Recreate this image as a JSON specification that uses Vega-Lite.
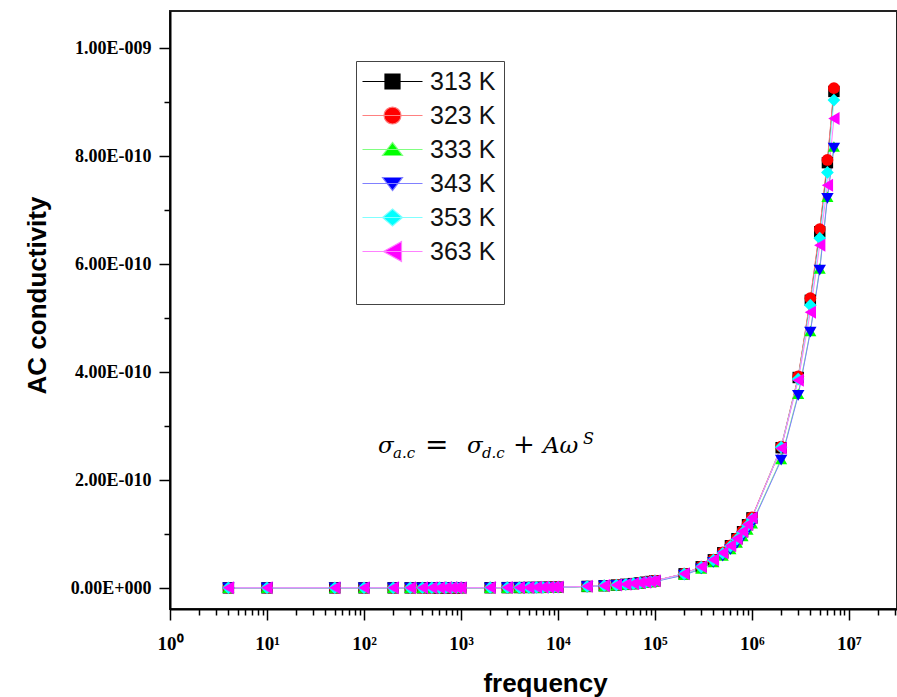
{
"$schema":"https://vega.github.io/schema/vega-lite/v6.json",
"width":727,"height":598,
"autosize":{"type":"none"},
"padding":{"left":170,"top":11,"right":0,"bottom":88},
"background":"#ffffff",
"config":{"view":{"stroke":"#222222","strokeWidth":2}},
"data":{"values":[
{"T":"313 K","f":4,"s":0.003e-10},{"T":"313 K","f":10,"s":0.003e-10},{"T":"313 K","f":50,"s":0.003e-10},{"T":"313 K","f":100,"s":0.003e-10},{"T":"313 K","f":200,"s":0.003e-10},{"T":"313 K","f":300,"s":0.0034e-10},{"T":"313 K","f":400,"s":0.0035e-10},{"T":"313 K","f":500,"s":0.0037e-10},{"T":"313 K","f":600,"s":0.0038e-10},{"T":"313 K","f":700,"s":0.0039e-10},{"T":"313 K","f":800,"s":0.004e-10},{"T":"313 K","f":900,"s":0.0042e-10},{"T":"313 K","f":1000,"s":0.0043e-10},{"T":"313 K","f":2000,"s":0.0056e-10},{"T":"313 K","f":3000,"s":0.0069e-10},{"T":"313 K","f":4000,"s":0.0082e-10},{"T":"313 K","f":5000,"s":0.0095e-10},{"T":"313 K","f":6000,"s":0.0108e-10},{"T":"313 K","f":7000,"s":0.0121e-10},{"T":"313 K","f":8000,"s":0.0134e-10},{"T":"313 K","f":9000,"s":0.0147e-10},{"T":"313 K","f":10000,"s":0.016e-10},{"T":"313 K","f":20000,"s":0.029e-10},{"T":"313 K","f":30000,"s":0.042e-10},{"T":"313 K","f":40000,"s":0.055e-10},{"T":"313 K","f":50000,"s":0.068e-10},{"T":"313 K","f":60000,"s":0.081e-10},{"T":"313 K","f":70000,"s":0.094e-10},{"T":"313 K","f":80000,"s":0.107e-10},{"T":"313 K","f":90000,"s":0.12e-10},{"T":"313 K","f":100000,"s":0.133e-10},{"T":"313 K","f":200000,"s":0.263e-10},{"T":"313 K","f":300000,"s":0.393e-10},{"T":"313 K","f":400000,"s":0.523e-10},{"T":"313 K","f":500000,"s":0.653e-10},{"T":"313 K","f":600000,"s":0.783e-10},{"T":"313 K","f":700000,"s":0.913e-10},{"T":"313 K","f":800000,"s":1.043e-10},{"T":"313 K","f":900000,"s":1.173e-10},{"T":"313 K","f":1000000,"s":1.30e-10},{"T":"313 K","f":2000000,"s":2.60e-10},{"T":"313 K","f":3000000,"s":3.90e-10},{"T":"313 K","f":4000000,"s":5.33e-10},{"T":"313 K","f":5000000,"s":6.60e-10},{"T":"313 K","f":6000000,"s":7.88e-10},{"T":"313 K","f":7000000,"s":9.20e-10},
{"T":"323 K","f":4,"s":0.004e-10},{"T":"323 K","f":10,"s":0.004e-10},{"T":"323 K","f":50,"s":0.004e-10},{"T":"323 K","f":100,"s":0.0041e-10},{"T":"323 K","f":200,"s":0.0043e-10},{"T":"323 K","f":300,"s":0.0044e-10},{"T":"323 K","f":400,"s":0.0045e-10},{"T":"323 K","f":500,"s":0.0047e-10},{"T":"323 K","f":600,"s":0.0048e-10},{"T":"323 K","f":700,"s":0.0049e-10},{"T":"323 K","f":800,"s":0.005e-10},{"T":"323 K","f":900,"s":0.0052e-10},{"T":"323 K","f":1000,"s":0.0053e-10},{"T":"323 K","f":2000,"s":0.0066e-10},{"T":"323 K","f":3000,"s":0.0079e-10},{"T":"323 K","f":4000,"s":0.0092e-10},{"T":"323 K","f":5000,"s":0.0106e-10},{"T":"323 K","f":6000,"s":0.0119e-10},{"T":"323 K","f":7000,"s":0.0132e-10},{"T":"323 K","f":8000,"s":0.0145e-10},{"T":"323 K","f":9000,"s":0.0158e-10},{"T":"323 K","f":10000,"s":0.0171e-10},{"T":"323 K","f":20000,"s":0.0302e-10},{"T":"323 K","f":30000,"s":0.0433e-10},{"T":"323 K","f":40000,"s":0.0564e-10},{"T":"323 K","f":50000,"s":0.0695e-10},{"T":"323 K","f":60000,"s":0.0826e-10},{"T":"323 K","f":70000,"s":0.0957e-10},{"T":"323 K","f":80000,"s":0.1088e-10},{"T":"323 K","f":90000,"s":0.1219e-10},{"T":"323 K","f":100000,"s":0.135e-10},{"T":"323 K","f":200000,"s":0.266e-10},{"T":"323 K","f":300000,"s":0.397e-10},{"T":"323 K","f":400000,"s":0.528e-10},{"T":"323 K","f":500000,"s":0.659e-10},{"T":"323 K","f":600000,"s":0.79e-10},{"T":"323 K","f":700000,"s":0.921e-10},{"T":"323 K","f":800000,"s":1.052e-10},{"T":"323 K","f":900000,"s":1.183e-10},{"T":"323 K","f":1000000,"s":1.31e-10},{"T":"323 K","f":2000000,"s":2.62e-10},{"T":"323 K","f":3000000,"s":3.92e-10},{"T":"323 K","f":4000000,"s":5.37e-10},{"T":"323 K","f":5000000,"s":6.65e-10},{"T":"323 K","f":6000000,"s":7.93e-10},{"T":"323 K","f":7000000,"s":9.26e-10},
{"T":"333 K","f":4,"s":0.003e-10},{"T":"333 K","f":10,"s":0.003e-10},{"T":"333 K","f":50,"s":0.003e-10},{"T":"333 K","f":100,"s":0.0031e-10},{"T":"333 K","f":200,"s":0.0032e-10},{"T":"333 K","f":300,"s":0.0034e-10},{"T":"333 K","f":400,"s":0.0035e-10},{"T":"333 K","f":500,"s":0.0036e-10},{"T":"333 K","f":600,"s":0.0037e-10},{"T":"333 K","f":700,"s":0.0038e-10},{"T":"333 K","f":800,"s":0.004e-10},{"T":"333 K","f":900,"s":0.0041e-10},{"T":"333 K","f":1000,"s":0.0042e-10},{"T":"333 K","f":2000,"s":0.0054e-10},{"T":"333 K","f":3000,"s":0.0066e-10},{"T":"333 K","f":4000,"s":0.0078e-10},{"T":"333 K","f":5000,"s":0.009e-10},{"T":"333 K","f":6000,"s":0.0102e-10},{"T":"333 K","f":7000,"s":0.0114e-10},{"T":"333 K","f":8000,"s":0.0126e-10},{"T":"333 K","f":9000,"s":0.0138e-10},{"T":"333 K","f":10000,"s":0.015e-10},{"T":"333 K","f":20000,"s":0.027e-10},{"T":"333 K","f":30000,"s":0.039e-10},{"T":"333 K","f":40000,"s":0.051e-10},{"T":"333 K","f":50000,"s":0.063e-10},{"T":"333 K","f":60000,"s":0.075e-10},{"T":"333 K","f":70000,"s":0.087e-10},{"T":"333 K","f":80000,"s":0.099e-10},{"T":"333 K","f":90000,"s":0.111e-10},{"T":"333 K","f":100000,"s":0.123e-10},{"T":"333 K","f":200000,"s":0.243e-10},{"T":"333 K","f":300000,"s":0.363e-10},{"T":"333 K","f":400000,"s":0.483e-10},{"T":"333 K","f":500000,"s":0.603e-10},{"T":"333 K","f":600000,"s":0.723e-10},{"T":"333 K","f":700000,"s":0.843e-10},{"T":"333 K","f":800000,"s":0.963e-10},{"T":"333 K","f":900000,"s":1.083e-10},{"T":"333 K","f":1000000,"s":1.20e-10},{"T":"333 K","f":2000000,"s":2.39e-10},{"T":"333 K","f":3000000,"s":3.60e-10},{"T":"333 K","f":4000000,"s":4.76e-10},{"T":"333 K","f":5000000,"s":5.92e-10},{"T":"333 K","f":6000000,"s":7.25e-10},{"T":"333 K","f":7000000,"s":8.18e-10},
{"T":"343 K","f":4,"s":0.002e-10},{"T":"343 K","f":10,"s":0.002e-10},{"T":"343 K","f":50,"s":0.002e-10},{"T":"343 K","f":100,"s":0.0021e-10},{"T":"343 K","f":200,"s":0.0022e-10},{"T":"343 K","f":300,"s":0.0024e-10},{"T":"343 K","f":400,"s":0.0025e-10},{"T":"343 K","f":500,"s":0.0026e-10},{"T":"343 K","f":600,"s":0.0027e-10},{"T":"343 K","f":700,"s":0.0028e-10},{"T":"343 K","f":800,"s":0.0029e-10},{"T":"343 K","f":900,"s":0.0031e-10},{"T":"343 K","f":1000,"s":0.0032e-10},{"T":"343 K","f":2000,"s":0.0044e-10},{"T":"343 K","f":3000,"s":0.0055e-10},{"T":"343 K","f":4000,"s":0.0067e-10},{"T":"343 K","f":5000,"s":0.0079e-10},{"T":"343 K","f":6000,"s":0.0091e-10},{"T":"343 K","f":7000,"s":0.0103e-10},{"T":"343 K","f":8000,"s":0.0114e-10},{"T":"343 K","f":9000,"s":0.0126e-10},{"T":"343 K","f":10000,"s":0.0138e-10},{"T":"343 K","f":20000,"s":0.0256e-10},{"T":"343 K","f":30000,"s":0.0374e-10},{"T":"343 K","f":40000,"s":0.0492e-10},{"T":"343 K","f":50000,"s":0.061e-10},{"T":"343 K","f":60000,"s":0.0728e-10},{"T":"343 K","f":70000,"s":0.0846e-10},{"T":"343 K","f":80000,"s":0.0964e-10},{"T":"343 K","f":90000,"s":0.1082e-10},{"T":"343 K","f":100000,"s":0.12e-10},{"T":"343 K","f":200000,"s":0.238e-10},{"T":"343 K","f":300000,"s":0.356e-10},{"T":"343 K","f":400000,"s":0.474e-10},{"T":"343 K","f":500000,"s":0.592e-10},{"T":"343 K","f":600000,"s":0.71e-10},{"T":"343 K","f":700000,"s":0.828e-10},{"T":"343 K","f":800000,"s":0.946e-10},{"T":"343 K","f":900000,"s":1.064e-10},{"T":"343 K","f":1000000,"s":1.18e-10},{"T":"343 K","f":2000000,"s":2.37e-10},{"T":"343 K","f":3000000,"s":3.57e-10},{"T":"343 K","f":4000000,"s":4.74e-10},{"T":"343 K","f":5000000,"s":5.89e-10},{"T":"343 K","f":6000000,"s":7.22e-10},{"T":"343 K","f":7000000,"s":8.15e-10},
{"T":"353 K","f":4,"s":0.004e-10},{"T":"353 K","f":10,"s":0.004e-10},{"T":"353 K","f":50,"s":0.004e-10},{"T":"353 K","f":100,"s":0.0041e-10},{"T":"353 K","f":200,"s":0.0043e-10},{"T":"353 K","f":300,"s":0.0044e-10},{"T":"353 K","f":400,"s":0.0045e-10},{"T":"353 K","f":500,"s":0.0046e-10},{"T":"353 K","f":600,"s":0.0048e-10},{"T":"353 K","f":700,"s":0.0049e-10},{"T":"353 K","f":800,"s":0.005e-10},{"T":"353 K","f":900,"s":0.0052e-10},{"T":"353 K","f":1000,"s":0.0053e-10},{"T":"353 K","f":2000,"s":0.0066e-10},{"T":"353 K","f":3000,"s":0.0078e-10},{"T":"353 K","f":4000,"s":0.0091e-10},{"T":"353 K","f":5000,"s":0.0104e-10},{"T":"353 K","f":6000,"s":0.0117e-10},{"T":"353 K","f":7000,"s":0.013e-10},{"T":"353 K","f":8000,"s":0.0142e-10},{"T":"353 K","f":9000,"s":0.0155e-10},{"T":"353 K","f":10000,"s":0.0168e-10},{"T":"353 K","f":20000,"s":0.0296e-10},{"T":"353 K","f":30000,"s":0.0424e-10},{"T":"353 K","f":40000,"s":0.0552e-10},{"T":"353 K","f":50000,"s":0.068e-10},{"T":"353 K","f":60000,"s":0.0808e-10},{"T":"353 K","f":70000,"s":0.0936e-10},{"T":"353 K","f":80000,"s":0.1064e-10},{"T":"353 K","f":90000,"s":0.1192e-10},{"T":"353 K","f":100000,"s":0.132e-10},{"T":"353 K","f":200000,"s":0.26e-10},{"T":"353 K","f":300000,"s":0.388e-10},{"T":"353 K","f":400000,"s":0.516e-10},{"T":"353 K","f":500000,"s":0.644e-10},{"T":"353 K","f":600000,"s":0.772e-10},{"T":"353 K","f":700000,"s":0.9e-10},{"T":"353 K","f":800000,"s":1.028e-10},{"T":"353 K","f":900000,"s":1.156e-10},{"T":"353 K","f":1000000,"s":1.28e-10},{"T":"353 K","f":2000000,"s":2.61e-10},{"T":"353 K","f":3000000,"s":3.87e-10},{"T":"353 K","f":4000000,"s":5.24e-10},{"T":"353 K","f":5000000,"s":6.48e-10},{"T":"353 K","f":6000000,"s":7.70e-10},{"T":"353 K","f":7000000,"s":9.04e-10},
{"T":"363 K","f":4,"s":0.005e-10},{"T":"363 K","f":10,"s":0.005e-10},{"T":"363 K","f":50,"s":0.005e-10},{"T":"363 K","f":100,"s":0.0051e-10},{"T":"363 K","f":200,"s":0.0053e-10},{"T":"363 K","f":300,"s":0.0054e-10},{"T":"363 K","f":400,"s":0.0055e-10},{"T":"363 K","f":500,"s":0.0057e-10},{"T":"363 K","f":600,"s":0.0058e-10},{"T":"363 K","f":700,"s":0.0059e-10},{"T":"363 K","f":800,"s":0.006e-10},{"T":"363 K","f":900,"s":0.0062e-10},{"T":"363 K","f":1000,"s":0.0063e-10},{"T":"363 K","f":2000,"s":0.0076e-10},{"T":"363 K","f":3000,"s":0.0089e-10},{"T":"363 K","f":4000,"s":0.0102e-10},{"T":"363 K","f":5000,"s":0.0115e-10},{"T":"363 K","f":6000,"s":0.0128e-10},{"T":"363 K","f":7000,"s":0.0141e-10},{"T":"363 K","f":8000,"s":0.0154e-10},{"T":"363 K","f":9000,"s":0.0167e-10},{"T":"363 K","f":10000,"s":0.018e-10},{"T":"363 K","f":20000,"s":0.031e-10},{"T":"363 K","f":30000,"s":0.044e-10},{"T":"363 K","f":40000,"s":0.057e-10},{"T":"363 K","f":50000,"s":0.07e-10},{"T":"363 K","f":60000,"s":0.083e-10},{"T":"363 K","f":70000,"s":0.096e-10},{"T":"363 K","f":80000,"s":0.109e-10},{"T":"363 K","f":90000,"s":0.122e-10},{"T":"363 K","f":100000,"s":0.135e-10},{"T":"363 K","f":200000,"s":0.265e-10},{"T":"363 K","f":300000,"s":0.395e-10},{"T":"363 K","f":400000,"s":0.525e-10},{"T":"363 K","f":500000,"s":0.655e-10},{"T":"363 K","f":600000,"s":0.785e-10},{"T":"363 K","f":700000,"s":0.915e-10},{"T":"363 K","f":800000,"s":1.045e-10},{"T":"363 K","f":900000,"s":1.175e-10},{"T":"363 K","f":1000000,"s":1.30e-10},{"T":"363 K","f":2000000,"s":2.59e-10},{"T":"363 K","f":3000000,"s":3.85e-10},{"T":"363 K","f":4000000,"s":5.11e-10},{"T":"363 K","f":5000000,"s":6.35e-10},{"T":"363 K","f":6000000,"s":7.46e-10},{"T":"363 K","f":7000000,"s":8.70e-10}
]},
"resolve":{"axis":{"x":"independent","y":"independent"}},
"layer":[
{"mark":{"type":"line","strokeWidth":1,"clip":true},
 "encoding":{
  "x":{"field":"f","type":"quantitative","scale":{"type":"log","domain":[1,31300000],"nice":false},
   "axis":{"orient":"bottom","values":[1,10,100,1000,10000,100000,1000000,10000000],"labelExpr":"'10' + ['⁰','¹','²','³','⁴','⁵','⁶','⁷'][round(log(datum.value)/LN10)]","labelFont":"Liberation Serif","labelFontSize":19,"labelFontWeight":"bold","labelColor":"#000000","labelPadding":14,"labelFlush":false,"labelOverlap":false,"tickSize":11,"tickWidth":1.5,"tickColor":"#000000","domainColor":"#000000","domainWidth":2,"grid":false,"title":"frequency","titleFont":"Liberation Sans","titleFontSize":26,"titleFontWeight":"bold","titleColor":"#000000","titlePadding":17,"titleX":375}},
  "y":{"field":"s","type":"quantitative","scale":{"domain":[-3.89e-11,1.069e-9],"nice":false,"zero":false},
   "axis":{"orient":"left","values":[0,2e-10,4e-10,6e-10,8e-10,1e-9],"labelExpr":"datum.value == 0 ? '0.00E+000' : format(datum.value / pow(10, floor(log(datum.value)/LN10 + 1e-9)), '.2f') + 'E-' + (floor(log(datum.value)/LN10 + 1e-9) > -10 ? '00' : '0') + toString(-floor(log(datum.value)/LN10 + 1e-9))","labelFont":"Liberation Serif","labelFontSize":18,"labelFontWeight":"bold","labelColor":"#000000","labelPadding":8,"labelFlush":false,"labelOverlap":false,"tickSize":11,"tickWidth":1.5,"tickColor":"#000000","domainColor":"#000000","domainWidth":2,"grid":false,"title":"AC conductivity","titleFont":"Liberation Sans","titleFontSize":26,"titleFontWeight":"bold","titleColor":"#000000","titlePadding":20,"titleY":284}},
  "stroke":{"field":"T","type":"nominal","scale":{"range":["#000000","#ff8080","#80ff80","#8080ff","#80ffff","#ff80ff"]},
   "legend":{"orient":"none","legendX":186,"legendY":50,"title":" ","titleOrient":"bottom","titleFontSize":20,"titlePadding":11,"labelFont":"Liberation Sans","labelFontSize":25,"labelColor":"#111111","symbolSize":225,"symbolStrokeWidth":1.2,"symbolOffset":16,"labelOffset":25,"rowPadding":8,"padding":8,"strokeColor":"#444444","fillColor":"#ffffff","symbolOpacity":1,
    "symbolFillColor":{"expr":"datum.value == '313 K' ? '#000000' : datum.value == '323 K' ? '#ff0000' : datum.value == '333 K' ? '#00ff00' : datum.value == '343 K' ? '#0000ff' : datum.value == '353 K' ? '#00ffff' : '#ff00ff'"},
    "symbolType":{"expr":"datum.value == '313 K' ? 'M-4,0H4M-1,-1H1V1H-1Z' : datum.value == '323 K' ? 'M-4,0H4M-1.13,0A1.13,1.13,0,1,0,1.13,0A1.13,1.13,0,1,0,-1.13,0Z' : datum.value == '333 K' ? 'M-4,0H4M0,-0.95L1.33,0.8H-1.33Z' : datum.value == '343 K' ? 'M-4,0H4M0,0.95L1.33,-0.8H-1.33Z' : datum.value == '353 K' ? 'M-4,0H4M0,-1.13L1.33,0L0,1.13L-1.33,0Z' : 'M-4,0H4M-1.2,0L1.2,-1.33V1.33Z'"}}}
 }},
{"mark":{"type":"point","filled":true,"opacity":1,"strokeWidth":0,"clip":true},
 "encoding":{
  "x":{"field":"f","type":"quantitative","axis":{"orient":"bottom","values":[2,3,4,5,6,7,8,9,20,30,40,50,60,70,80,90,200,300,400,500,600,700,800,900,2000,3000,4000,5000,6000,7000,8000,9000,20000,30000,40000,50000,60000,70000,80000,90000,200000,300000,400000,500000,600000,700000,800000,900000,2000000,3000000,4000000,5000000,6000000,7000000,8000000,9000000,20000000,30000000],"labels":false,"domain":false,"grid":false,"title":null,"tickSize":6,"tickWidth":1.5,"tickColor":"#000000"}},
  "y":{"field":"s","type":"quantitative","axis":{"orient":"left","values":[1e-10,3e-10,5e-10,7e-10,9e-10],"labels":false,"domain":false,"grid":false,"title":null,"tickSize":6,"tickWidth":1.5,"tickColor":"#000000"}},
  "fill":{"field":"T","type":"nominal","scale":{"range":["#000000","#ff0000","#00ff00","#0000ff","#00ffff","#ff00ff"]},"legend":null},
  "shape":{"field":"T","type":"nominal","scale":{"range":["square","circle","triangle-up","triangle-down","diamond","triangle-left"]},"legend":null},
  "size":{"field":"T","type":"ordinal","scale":{"range":[130,170,190,190,230,200]},"legend":null}
 }},
{"data":{"values":[{}]},"mark":{"type":"text","text":"σ","font":"DejaVu Serif","fontStyle":"italic","fontSize":23,"align":"left","baseline":"alphabetic","dx":0,"color":"#000000"},
 "encoding":{"x":{"datum":139.4,"type":"quantitative","axis":null},"y":{"datum":2.506e-10,"type":"quantitative","axis":null}}},
{"data":{"values":[{}]},"mark":{"type":"text","text":"a.c","font":"DejaVu Serif","fontStyle":"italic","fontSize":15,"align":"left","baseline":"alphabetic","dx":15,"dy":5,"color":"#000000"},
 "encoding":{"x":{"datum":139.4,"type":"quantitative","axis":null},"y":{"datum":2.506e-10,"type":"quantitative","axis":null}}},
{"data":{"values":[{}]},"mark":{"type":"text","text":"=","font":"DejaVu Serif","fontSize":28,"align":"left","baseline":"alphabetic","dx":47,"dy":1,"color":"#000000"},
 "encoding":{"x":{"datum":139.4,"type":"quantitative","axis":null},"y":{"datum":2.506e-10,"type":"quantitative","axis":null}}},
{"data":{"values":[{}]},"mark":{"type":"text","text":"σ","font":"DejaVu Serif","fontStyle":"italic","fontSize":23,"align":"left","baseline":"alphabetic","dx":89,"color":"#000000"},
 "encoding":{"x":{"datum":139.4,"type":"quantitative","axis":null},"y":{"datum":2.506e-10,"type":"quantitative","axis":null}}},
{"data":{"values":[{}]},"mark":{"type":"text","text":"d.c","font":"DejaVu Serif","fontStyle":"italic","fontSize":15,"align":"left","baseline":"alphabetic","dx":104,"dy":5,"color":"#000000"},
 "encoding":{"x":{"datum":139.4,"type":"quantitative","axis":null},"y":{"datum":2.506e-10,"type":"quantitative","axis":null}}},
{"data":{"values":[{}]},"mark":{"type":"text","text":"+","font":"DejaVu Serif","fontSize":26,"align":"left","baseline":"alphabetic","dx":135,"color":"#000000"},
 "encoding":{"x":{"datum":139.4,"type":"quantitative","axis":null},"y":{"datum":2.506e-10,"type":"quantitative","axis":null}}},
{"data":{"values":[{}]},"mark":{"type":"text","text":"Aω","font":"DejaVu Serif","fontStyle":"italic","fontSize":23,"align":"left","baseline":"alphabetic","dx":165,"color":"#000000"},
 "encoding":{"x":{"datum":139.4,"type":"quantitative","axis":null},"y":{"datum":2.506e-10,"type":"quantitative","axis":null}}},
{"data":{"values":[{}]},"mark":{"type":"text","text":"S","font":"DejaVu Serif","fontStyle":"italic","fontSize":16,"align":"left","baseline":"alphabetic","dx":205,"dy":-9,"color":"#000000"},
 "encoding":{"x":{"datum":139.4,"type":"quantitative","axis":null},"y":{"datum":2.506e-10,"type":"quantitative","axis":null}}}
]
}
